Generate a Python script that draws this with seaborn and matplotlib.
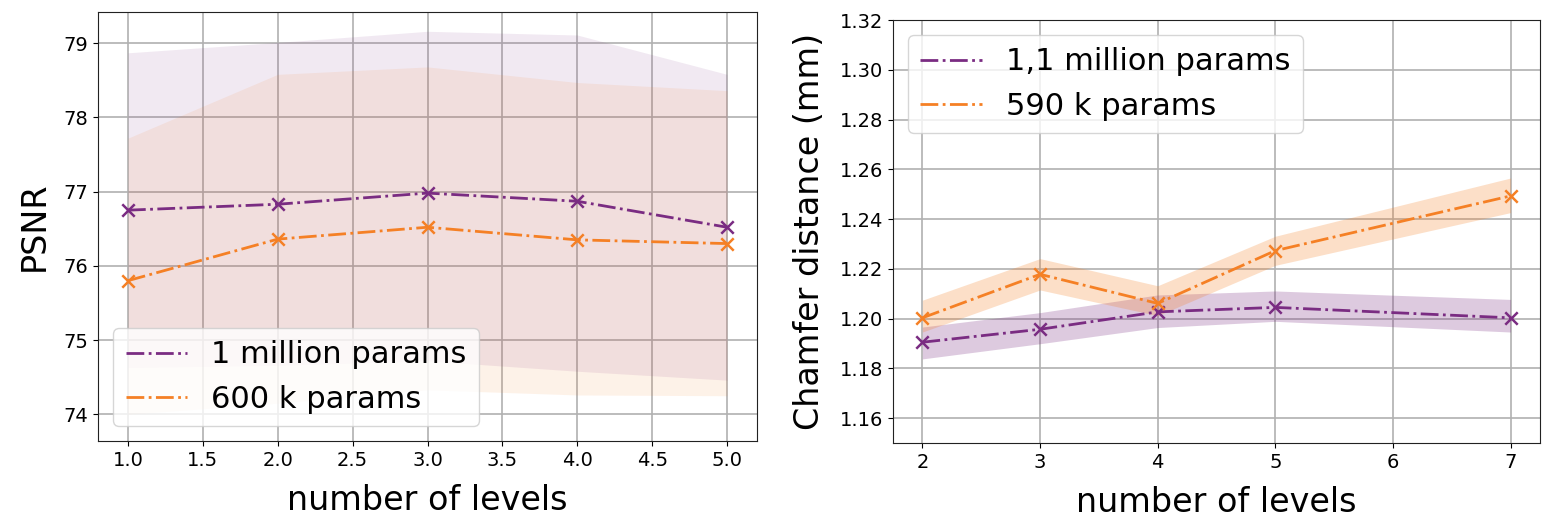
import numpy as np
import pandas as pd
import matplotlib
matplotlib.use("Agg")
import matplotlib.pyplot as plt
import seaborn as sns

# PSNR vs number of levels (left)
levels_psnr = [1, 2, 3, 4, 5]
psnr_1m = [76.75, 76.83, 76.98, 76.87, 76.52]
psnr_1m_hi = [78.87, 79.01, 79.16, 79.11, 78.58]
psnr_1m_lo = [74.63, 74.66, 74.72, 74.58, 74.46]
psnr_600k = [75.80, 76.36, 76.52, 76.35, 76.30]
psnr_600k_hi = [77.72, 78.58, 78.68, 78.47, 78.36]
psnr_600k_lo = [74.00, 74.15, 74.33, 74.26, 74.25]

# Chamfer distance vs number of levels (right)
levels_cd = [2, 3, 4, 5, 7]
cd_11m = [1.1905, 1.1957, 1.2027, 1.2045, 1.2003]
cd_11m_hi = [1.1966, 1.2024, 1.2095, 1.2111, 1.2077]
cd_11m_lo = [1.1838, 1.1899, 1.1964, 1.1989, 1.1946]
cd_590k = [1.2003, 1.2178, 1.2061, 1.2273, 1.2493]
cd_590k_hi = [1.2074, 1.2241, 1.2132, 1.2331, 1.2565]
cd_590k_lo = [1.1946, 1.2115, 1.2012, 1.2214, 1.2426]

purple = "#7a2c82"
orange = "#f58025"

plt.rcParams["font.family"] = "DejaVu Sans"

fig = plt.figure(figsize=(15.52, 5.31), dpi=100)
ax1 = fig.add_axes([98/1552, 1-441/531, 659/1552, 429/531])
ax2 = fig.add_axes([893/1552, 1-443/531, 647/1552, 423/531])


def draw(ax, x, y, lo, hi, color, label, alpha):
    ax.fill_between(x, lo, hi, color=color, alpha=alpha, lw=0)
    df = pd.DataFrame({"x": x, "y": y})
    sns.lineplot(data=df, x="x", y="y", ax=ax, color=color, linestyle="-.",
                 lw=2, label=label)
    sns.scatterplot(data=df, x="x", y="y", ax=ax, color=color, marker="x",
                    s=80, linewidth=1.8, legend=False, zorder=3)


#Left panel
draw(ax1, levels_psnr, psnr_1m, psnr_1m_lo, psnr_1m_hi, purple, "1 million params", 0.1)
draw(ax1, levels_psnr, psnr_600k, psnr_600k_lo, psnr_600k_hi, orange, "600 k params", 0.1)
ax1.set_ylim(73.64, 79.42)
ax1.set_xlim(0.8, 5.2)
ax1.set_yticks([74, 75, 76, 77, 78, 79])
ax1.set_xticks(np.arange(1.0, 5.01, 0.5))
ax1.set_xlabel("number of levels", fontsize=24, labelpad=10)
ax1.set_ylabel("PSNR", fontsize=24, labelpad=9)
ax1.legend(loc="lower left", fontsize=22)

#Right panel
draw(ax2, levels_cd, cd_11m, cd_11m_lo, cd_11m_hi, purple, "1,1 million params", 0.25)
draw(ax2, levels_cd, cd_590k, cd_590k_lo, cd_590k_hi, orange, "590 k params", 0.25)
ax2.set_ylim(1.15, 1.32)
ax2.set_xlim(1.75, 7.25)
ax2.set_yticks(np.arange(1.16, 1.3201, 0.02))
ax2.set_xticks([2, 3, 4, 5, 6, 7])
ax2.set_xlabel("number of levels", fontsize=24, labelpad=10)
ax2.set_ylabel("Chamfer distance (mm)", fontsize=24, labelpad=10)
ax2.legend(loc="upper left", fontsize=22)

for ax in (ax1, ax2):
    ax.grid(True, color="#b0b0b0", lw=1.2)
    ax.set_axisbelow(True)
    ax.tick_params(labelsize=14)
    for s in ax.spines.values():
        s.set_color("#222222")

fig.savefig("out.png", dpi=100)
